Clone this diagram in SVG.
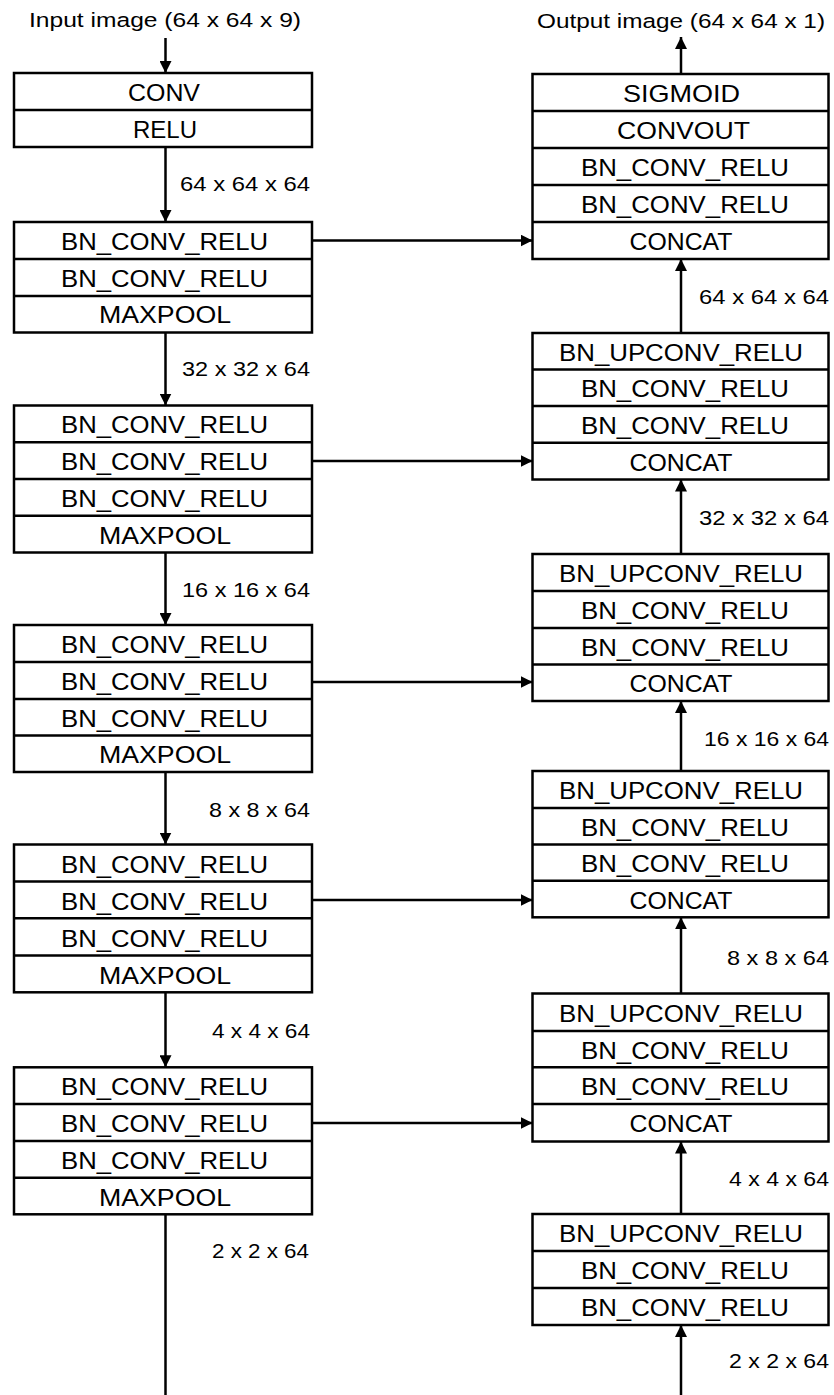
<svg xmlns="http://www.w3.org/2000/svg" width="834" height="1395" viewBox="0 0 834 1395">
<style>
.bx{fill:#fff;stroke:#000;stroke-width:2.5}
.dv{stroke:#000;stroke-width:2.5}
.t{font-family:"Liberation Sans",Arial,sans-serif;font-size:24px;text-anchor:middle;fill:#000}
.l{font-family:"Liberation Sans",Arial,sans-serif;font-size:21px;text-anchor:end;fill:#000}
.h{font-family:"Liberation Sans",Arial,sans-serif;font-size:20.5px;text-anchor:middle;fill:#000}
.c{stroke:#000;stroke-width:2.5;fill:none}
</style>
<defs>
<marker id="ah" viewBox="0 0 12 12" refX="12" refY="6" markerWidth="12" markerHeight="12" markerUnits="userSpaceOnUse" orient="auto">
<path d="M0,0 L12,6 L0,12 Z" fill="#000"/>
</marker>
</defs>

<g id="titles">
<text class="h" x="165" y="27" textLength="272" lengthAdjust="spacingAndGlyphs">Input image (64 x 64 x 9)</text>
<text class="h" x="681" y="28" textLength="288" lengthAdjust="spacingAndGlyphs">Output image (64 x 64 x 1)</text>
</g>

<g id="connectors">
<line class="c" x1="165.5" y1="38" x2="165.5" y2="73" marker-end="url(#ah)"/>
<line class="c" x1="165.5" y1="147" x2="165.5" y2="222" marker-end="url(#ah)"/>
<line class="c" x1="165.5" y1="332.5" x2="165.5" y2="405.5" marker-end="url(#ah)"/>
<line class="c" x1="165.5" y1="552.4" x2="165.5" y2="625" marker-end="url(#ah)"/>
<line class="c" x1="165.5" y1="772" x2="165.5" y2="844.5" marker-end="url(#ah)"/>
<line class="c" x1="165.5" y1="992.3" x2="165.5" y2="1067.3" marker-end="url(#ah)"/>
<line class="c" x1="165.5" y1="1214.3" x2="165.5" y2="1395"/>
<line class="c" x1="681" y1="1395" x2="681" y2="1325" marker-end="url(#ah)"/>
<line class="c" x1="681" y1="1214" x2="681" y2="1141.5" marker-end="url(#ah)"/>
<line class="c" x1="681" y1="993.5" x2="681" y2="917.3" marker-end="url(#ah)"/>
<line class="c" x1="681" y1="771" x2="681" y2="701" marker-end="url(#ah)"/>
<line class="c" x1="681" y1="554" x2="681" y2="479.5" marker-end="url(#ah)"/>
<line class="c" x1="681" y1="333" x2="681" y2="259" marker-end="url(#ah)"/>
<line class="c" x1="681" y1="74" x2="681" y2="37" marker-end="url(#ah)"/>
<line class="c" x1="312" y1="240.5" x2="532.5" y2="240.5" marker-end="url(#ah)"/>
<line class="c" x1="312" y1="461" x2="532.5" y2="461" marker-end="url(#ah)"/>
<line class="c" x1="312" y1="682" x2="532.5" y2="682" marker-end="url(#ah)"/>
<line class="c" x1="312" y1="900" x2="532.5" y2="900" marker-end="url(#ah)"/>
<line class="c" x1="312" y1="1123" x2="532.5" y2="1123" marker-end="url(#ah)"/>
</g>

<g id="labels">
<text class="l" x="310" y="191" textLength="130" lengthAdjust="spacingAndGlyphs">64 x 64 x 64</text>
<text class="l" x="310" y="376" textLength="128" lengthAdjust="spacingAndGlyphs">32 x 32 x 64</text>
<text class="l" x="310" y="597" textLength="128" lengthAdjust="spacingAndGlyphs">16 x 16 x 64</text>
<text class="l" x="310" y="817" textLength="101" lengthAdjust="spacingAndGlyphs">8 x 8 x 64</text>
<text class="l" x="310" y="1038" textLength="98" lengthAdjust="spacingAndGlyphs">4 x 4 x 64</text>
<text class="l" x="309" y="1258" textLength="97" lengthAdjust="spacingAndGlyphs">2 x 2 x 64</text>
<text class="l" x="829" y="304" textLength="130" lengthAdjust="spacingAndGlyphs">64 x 64 x 64</text>
<text class="l" x="829" y="525" textLength="130" lengthAdjust="spacingAndGlyphs">32 x 32 x 64</text>
<text class="l" x="829" y="746" textLength="125" lengthAdjust="spacingAndGlyphs">16 x 16 x 64</text>
<text class="l" x="829" y="965" textLength="102" lengthAdjust="spacingAndGlyphs">8 x 8 x 64</text>
<text class="l" x="829" y="1186" textLength="100" lengthAdjust="spacingAndGlyphs">4 x 4 x 64</text>
<text class="l" x="829" y="1368" textLength="100" lengthAdjust="spacingAndGlyphs">2 x 2 x 64</text>
</g>

<g id="enc1">
<rect class="bx" x="14" y="73" width="298" height="74"/>
<line class="dv" x1="14" y1="110" x2="312" y2="110"/>
<text class="t" x="164" y="101" textLength="72" lengthAdjust="spacingAndGlyphs">CONV</text>
<text class="t" x="165" y="138">RELU</text>
</g>

<g id="enc2">
<rect class="bx" x="14" y="222" width="298" height="110.5"/>
<line class="dv" x1="14" y1="259" x2="312" y2="259"/>
<line class="dv" x1="14" y1="296" x2="312" y2="296"/>
<text class="t" x="164.5" y="250" textLength="207" lengthAdjust="spacingAndGlyphs">BN_CONV_RELU</text>
<text class="t" x="164.5" y="287" textLength="207" lengthAdjust="spacingAndGlyphs">BN_CONV_RELU</text>
<text class="t" x="165" y="323" textLength="132" lengthAdjust="spacingAndGlyphs">MAXPOOL</text>
</g>

<g id="enc3">
<rect class="bx" x="14" y="405.5" width="298" height="147"/>
<line class="dv" x1="14" y1="442.2" x2="312" y2="442.2"/>
<line class="dv" x1="14" y1="479" x2="312" y2="479"/>
<line class="dv" x1="14" y1="515.7" x2="312" y2="515.7"/>
<text class="t" x="164.5" y="433.3" textLength="207" lengthAdjust="spacingAndGlyphs">BN_CONV_RELU</text>
<text class="t" x="164.5" y="470" textLength="207" lengthAdjust="spacingAndGlyphs">BN_CONV_RELU</text>
<text class="t" x="164.5" y="507" textLength="207" lengthAdjust="spacingAndGlyphs">BN_CONV_RELU</text>
<text class="t" x="165" y="543.5" textLength="132" lengthAdjust="spacingAndGlyphs">MAXPOOL</text>
</g>

<g id="enc4">
<rect class="bx" x="14" y="625" width="298" height="147"/>
<line class="dv" x1="14" y1="662" x2="312" y2="662"/>
<line class="dv" x1="14" y1="699" x2="312" y2="699"/>
<line class="dv" x1="14" y1="735.5" x2="312" y2="735.5"/>
<text class="t" x="164.5" y="653" textLength="207" lengthAdjust="spacingAndGlyphs">BN_CONV_RELU</text>
<text class="t" x="164.5" y="690" textLength="207" lengthAdjust="spacingAndGlyphs">BN_CONV_RELU</text>
<text class="t" x="164.5" y="726.5" textLength="207" lengthAdjust="spacingAndGlyphs">BN_CONV_RELU</text>
<text class="t" x="165" y="763" textLength="132" lengthAdjust="spacingAndGlyphs">MAXPOOL</text>
</g>

<g id="enc5">
<rect class="bx" x="14" y="844.5" width="298" height="147.8"/>
<line class="dv" x1="14" y1="881.5" x2="312" y2="881.5"/>
<line class="dv" x1="14" y1="918.3" x2="312" y2="918.3"/>
<line class="dv" x1="14" y1="955.5" x2="312" y2="955.5"/>
<text class="t" x="164.5" y="872.5" textLength="207" lengthAdjust="spacingAndGlyphs">BN_CONV_RELU</text>
<text class="t" x="164.5" y="909.5" textLength="207" lengthAdjust="spacingAndGlyphs">BN_CONV_RELU</text>
<text class="t" x="164.5" y="946.5" textLength="207" lengthAdjust="spacingAndGlyphs">BN_CONV_RELU</text>
<text class="t" x="165" y="983.5" textLength="132" lengthAdjust="spacingAndGlyphs">MAXPOOL</text>
</g>

<g id="enc6">
<rect class="bx" x="14" y="1067.3" width="298" height="147"/>
<line class="dv" x1="14" y1="1104" x2="312" y2="1104"/>
<line class="dv" x1="14" y1="1141" x2="312" y2="1141"/>
<line class="dv" x1="14" y1="1177.7" x2="312" y2="1177.7"/>
<text class="t" x="164.5" y="1095" textLength="207" lengthAdjust="spacingAndGlyphs">BN_CONV_RELU</text>
<text class="t" x="164.5" y="1132" textLength="207" lengthAdjust="spacingAndGlyphs">BN_CONV_RELU</text>
<text class="t" x="164.5" y="1169" textLength="207" lengthAdjust="spacingAndGlyphs">BN_CONV_RELU</text>
<text class="t" x="165" y="1205.5" textLength="132" lengthAdjust="spacingAndGlyphs">MAXPOOL</text>
</g>

<g id="dec1">
<rect class="bx" x="532.5" y="74" width="296" height="185"/>
<line class="dv" x1="532.5" y1="111" x2="828.5" y2="111"/>
<line class="dv" x1="532.5" y1="148" x2="828.5" y2="148"/>
<line class="dv" x1="532.5" y1="185" x2="828.5" y2="185"/>
<line class="dv" x1="532.5" y1="222" x2="828.5" y2="222"/>
<text class="t" x="681.5" y="102" textLength="117" lengthAdjust="spacingAndGlyphs">SIGMOID</text>
<text class="t" x="683.5" y="139" textLength="133" lengthAdjust="spacingAndGlyphs">CONVOUT</text>
<text class="t" x="685" y="176" textLength="208" lengthAdjust="spacingAndGlyphs">BN_CONV_RELU</text>
<text class="t" x="685" y="213" textLength="208" lengthAdjust="spacingAndGlyphs">BN_CONV_RELU</text>
<text class="t" x="681" y="250" textLength="103" lengthAdjust="spacingAndGlyphs">CONCAT</text>
</g>

<g id="dec2">
<rect class="bx" x="532.5" y="333" width="296" height="146.5"/>
<line class="dv" x1="532.5" y1="369.5" x2="828.5" y2="369.5"/>
<line class="dv" x1="532.5" y1="406" x2="828.5" y2="406"/>
<line class="dv" x1="532.5" y1="442.7" x2="828.5" y2="442.7"/>
<text class="t" x="681" y="360.5" textLength="244" lengthAdjust="spacingAndGlyphs">BN_UPCONV_RELU</text>
<text class="t" x="685" y="397" textLength="208" lengthAdjust="spacingAndGlyphs">BN_CONV_RELU</text>
<text class="t" x="685" y="433.5" textLength="208" lengthAdjust="spacingAndGlyphs">BN_CONV_RELU</text>
<text class="t" x="681" y="470.5" textLength="103" lengthAdjust="spacingAndGlyphs">CONCAT</text>
</g>

<g id="dec3">
<rect class="bx" x="532.5" y="554" width="296" height="147"/>
<line class="dv" x1="532.5" y1="591" x2="828.5" y2="591"/>
<line class="dv" x1="532.5" y1="628" x2="828.5" y2="628"/>
<line class="dv" x1="532.5" y1="664.5" x2="828.5" y2="664.5"/>
<text class="t" x="681" y="582" textLength="244" lengthAdjust="spacingAndGlyphs">BN_UPCONV_RELU</text>
<text class="t" x="685" y="619" textLength="208" lengthAdjust="spacingAndGlyphs">BN_CONV_RELU</text>
<text class="t" x="685" y="655.5" textLength="208" lengthAdjust="spacingAndGlyphs">BN_CONV_RELU</text>
<text class="t" x="681" y="692" textLength="103" lengthAdjust="spacingAndGlyphs">CONCAT</text>
</g>

<g id="dec4">
<rect class="bx" x="532.5" y="771" width="296" height="146.3"/>
<line class="dv" x1="532.5" y1="808" x2="828.5" y2="808"/>
<line class="dv" x1="532.5" y1="844.5" x2="828.5" y2="844.5"/>
<line class="dv" x1="532.5" y1="880.7" x2="828.5" y2="880.7"/>
<text class="t" x="681" y="799" textLength="244" lengthAdjust="spacingAndGlyphs">BN_UPCONV_RELU</text>
<text class="t" x="685" y="835.5" textLength="208" lengthAdjust="spacingAndGlyphs">BN_CONV_RELU</text>
<text class="t" x="685" y="872" textLength="208" lengthAdjust="spacingAndGlyphs">BN_CONV_RELU</text>
<text class="t" x="681" y="908.5" textLength="103" lengthAdjust="spacingAndGlyphs">CONCAT</text>
</g>

<g id="dec5">
<rect class="bx" x="532.5" y="993.5" width="296" height="148"/>
<line class="dv" x1="532.5" y1="1031" x2="828.5" y2="1031"/>
<line class="dv" x1="532.5" y1="1067.3" x2="828.5" y2="1067.3"/>
<line class="dv" x1="532.5" y1="1104" x2="828.5" y2="1104"/>
<text class="t" x="681" y="1022" textLength="244" lengthAdjust="spacingAndGlyphs">BN_UPCONV_RELU</text>
<text class="t" x="685" y="1058.5" textLength="208" lengthAdjust="spacingAndGlyphs">BN_CONV_RELU</text>
<text class="t" x="685" y="1095" textLength="208" lengthAdjust="spacingAndGlyphs">BN_CONV_RELU</text>
<text class="t" x="681" y="1132" textLength="103" lengthAdjust="spacingAndGlyphs">CONCAT</text>
</g>

<g id="dec6">
<rect class="bx" x="532.5" y="1214" width="296" height="111"/>
<line class="dv" x1="532.5" y1="1251" x2="828.5" y2="1251"/>
<line class="dv" x1="532.5" y1="1288" x2="828.5" y2="1288"/>
<text class="t" x="681" y="1242" textLength="244" lengthAdjust="spacingAndGlyphs">BN_UPCONV_RELU</text>
<text class="t" x="685" y="1279" textLength="208" lengthAdjust="spacingAndGlyphs">BN_CONV_RELU</text>
<text class="t" x="685" y="1316" textLength="208" lengthAdjust="spacingAndGlyphs">BN_CONV_RELU</text>
</g>
</svg>
